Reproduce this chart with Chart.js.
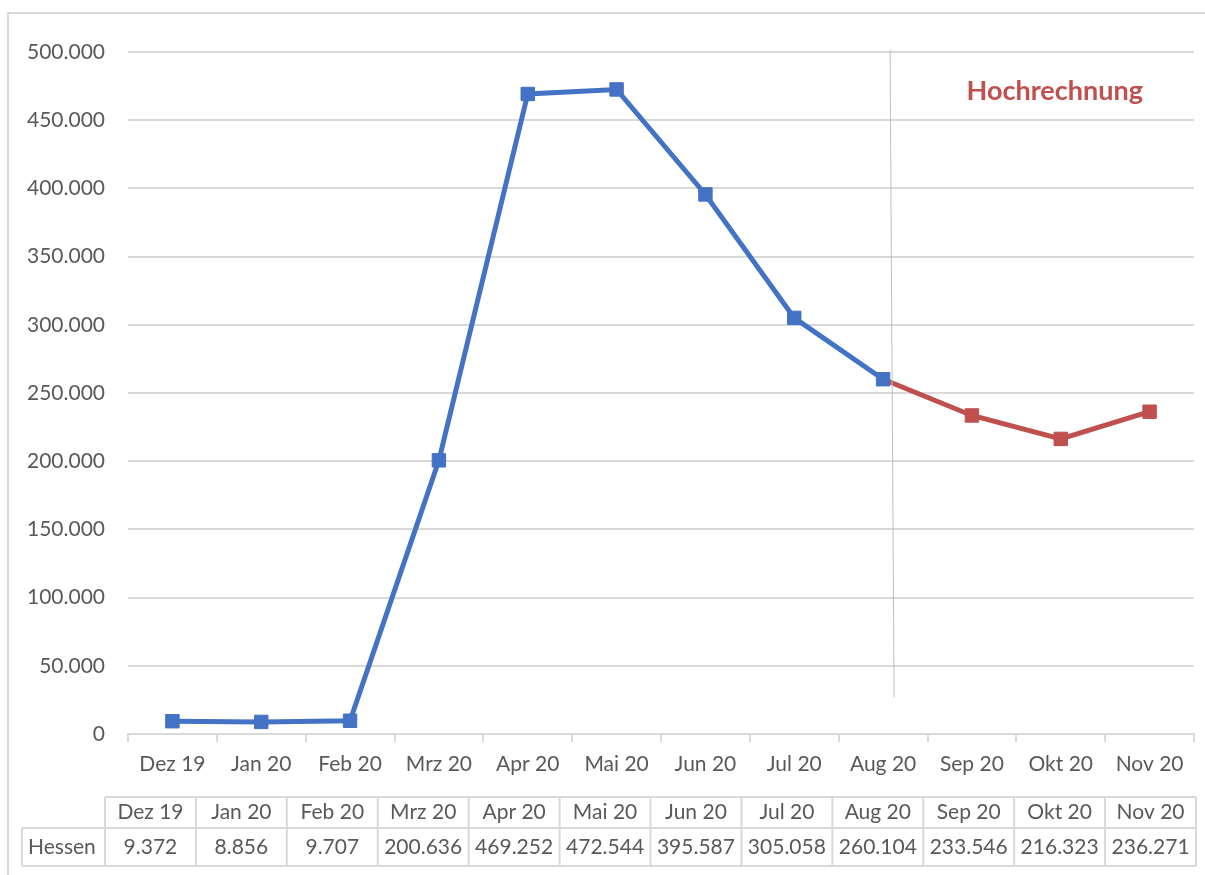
<!DOCTYPE html>
<html>
<head>
<meta charset="utf-8">
<script src="https://cdn.jsdelivr.net/npm/chart.js@4/dist/chart.umd.min.js"></script>
<style>
  html, body { margin:0; padding:0; background:#fff; }
  #wrap { width:1205px; height:875px; position:relative; }
</style>
</head>
<body>
<div id="wrap"><canvas id="chart" width="1205" height="875"></canvas></div>
<script>
// Daten
const monate = ["Dez 19","Jan 20","Feb 20","Mrz 20","Apr 20","Mai 20","Jun 20","Jul 20","Aug 20","Sep 20","Okt 20","Nov 20"];
const hessen = [9372, 8856, 9707, 200636, 469252, 472544, 395587, 305058, 260104, 233546, 216323, 236271];
const reiheName = "Hessen";
const yTicks = [0, 50000, 100000, 150000, 200000, 250000, 300000, 350000, 400000, 450000, 500000];
const startHochrechnung = 8; // Aug 20: ab hier Hochrechnung
const hinweisText = "Hochrechnung";

const BLAU = "#4472C4", ROT = "#C0504D", GRAU = "#D9D9D9", TEXT = "#595959";

function fmt(v) {
  return String(v).replace(/\B(?=(\d{3})+(?!\d))/g, ".");
}

const ist = hessen.map((v,i) => i <= startHochrechnung ? v : null);
const prognose = hessen.map((v,i) => i >= startHochrechnung ? v : null);
const prognoseRadius = hessen.map((v,i) => i > startHochrechnung ? 9.5 : 0);

// Rahmen, Trennlinie, Hinweis und Datentabelle
const extras = {
  id: "extras",
  beforeDraw(chart) {
    const ctx = chart.ctx;
    ctx.save();
    ctx.strokeStyle = GRAU;
    ctx.lineWidth = 2;
    ctx.beginPath();
    ctx.moveTo(8, 875); ctx.lineTo(8, 13); ctx.lineTo(1205, 13);
    ctx.stroke();
    ctx.restore();
  },
  afterDatasetsDraw(chart) {
    const ctx = chart.ctx, x = chart.scales.x, y = chart.scales.y;
    ctx.save();
    // Trennlinie
    const xl = x.getPixelForValue(startHochrechnung) + 7;
    ctx.strokeStyle = "#BFBFBF";
    ctx.lineWidth = 1;
    ctx.beginPath();
    ctx.moveTo(xl, y.getPixelForValue(500000) - 2);
    ctx.lineTo(xl + 4, y.getPixelForValue(27000));
    ctx.stroke();
    // Hinweis
    ctx.fillStyle = ROT;
    ctx.font = "bold 27px Lato";
    ctx.textAlign = "center";
    ctx.textBaseline = "middle";
    ctx.fillText(hinweisText, x.getPixelForValue(10) - 6, y.getPixelForValue(471000));
    ctx.restore();
  },
  afterDraw(chart) {
    const ctx = chart.ctx;
    const left = 105, right = 1196, labelLeft = 22;
    const top = 797, mid = 828, bottom = 866;
    const w = (right - left) / monate.length;
    ctx.save();
    ctx.strokeStyle = GRAU;
    ctx.lineWidth = 2;
    ctx.beginPath();
    ctx.moveTo(left, top); ctx.lineTo(right, top);
    ctx.moveTo(labelLeft, mid); ctx.lineTo(right, mid);
    ctx.moveTo(labelLeft, bottom); ctx.lineTo(right, bottom);
    ctx.moveTo(labelLeft, mid); ctx.lineTo(labelLeft, bottom);
    for (let i = 0; i <= monate.length; i++) {
      const cx = left + i * w;
      ctx.moveTo(cx, top); ctx.lineTo(cx, bottom);
    }
    ctx.stroke();
    ctx.fillStyle = TEXT;
    ctx.font = "21px Lato";
    ctx.textBaseline = "middle";
    ctx.textAlign = "left";
    ctx.fillText(reiheName, 28, (mid + bottom) / 2);
    ctx.textAlign = "center";
    monate.forEach((m, i) => {
      const cx = left + (i + 0.5) * w;
      ctx.fillText(m, cx, (top + mid) / 2);
      ctx.fillText(fmt(hessen[i]), cx, (mid + bottom) / 2);
    });
    ctx.restore();
  }
};

new Chart(document.getElementById("chart"), {
  type: "line",
  data: {
    labels: monate,
    datasets: [
      { label: reiheName, data: ist, borderColor: BLAU, backgroundColor: BLAU,
        borderWidth: 5, pointStyle: "rect", pointRadius: 9.5, pointBorderWidth: 1,
        pointBorderColor: BLAU, tension: 0 },
      { label: hinweisText, data: prognose, borderColor: ROT, backgroundColor: ROT,
        borderWidth: 5, pointStyle: "rect", pointRadius: prognoseRadius, pointBorderWidth: 1,
        pointBorderColor: ROT, tension: 0 }
    ]
  },
  options: {
    responsive: false,
    animation: false,
    devicePixelRatio: 1,
    layout: { padding: { top: 52, right: 11, left: 0, bottom: 0 } },
    plugins: { legend: { display: false }, tooltip: { enabled: false } },
    scales: {
      x: {
        offset: true,
        border: { display: true, color: GRAU, width: 2 },
        grid: { offset: true, drawOnChartArea: false, drawTicks: true, tickLength: 8, color: GRAU, lineWidth: 2 },
        ticks: { color: TEXT, font: { family: "Lato", size: 21 }, padding: 10, maxRotation: 0, autoSkip: false },
        afterFit: s => { s.height = 141; }
      },
      y: {
        min: 0, max: 500000,
        afterBuildTicks: s => { s.ticks = yTicks.map(v => ({ value: v })); },
        border: { display: false },
        grid: { color: GRAU, lineWidth: 2, drawTicks: false },
        ticks: { color: TEXT, font: { family: "Lato", size: 21 }, padding: 23, callback: v => fmt(v) },
        afterFit: s => { s.width = 128; }
      }
    }
  },
  plugins: [extras]
});
</script>
</body>
</html>
